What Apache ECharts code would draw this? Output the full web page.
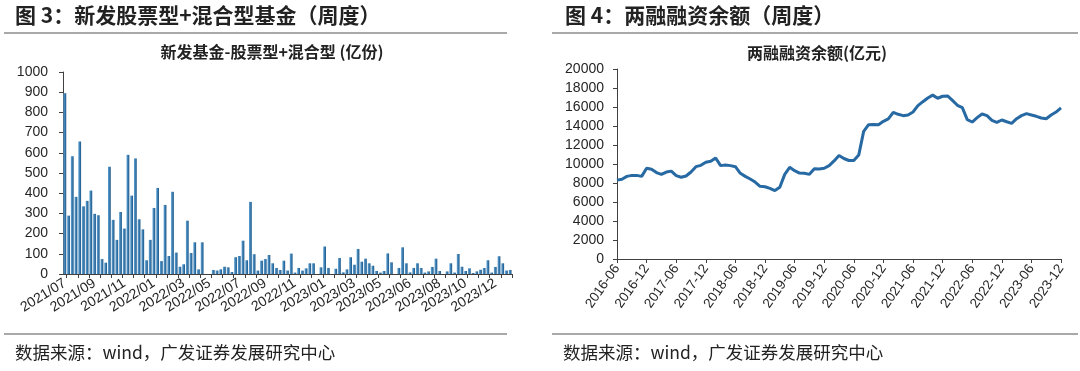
<!DOCTYPE html>
<html>
<head>
<meta charset="utf-8">
<script src="https://cdn.jsdelivr.net/npm/echarts@6/dist/echarts.min.js"></script>
<style>
  html, body { margin: 0; padding: 0; background: #fff; }
  #chart { width: 1080px; height: 371px; }
</style>
</head>
<body>
<div id="chart"></div>
<script>
// weekly new equity + hybrid fund issuance (亿份), 2021/07 - 2023/12
const fundValues = [
  895, 289, 583, 382, 656, 335, 362, 413, 298, 291, 74, 56, 531, 268, 169, 307,
  225, 590, 388, 572, 271, 221, 68, 169, 327, 426, 64, 342, 89, 407, 106, 36,
  48, 264, 104, 157, 23, 157, 0, 0,
  20, 17, 23, 36, 33, 10, 83, 89, 165, 68, 357, 98, 17, 66, 74, 94, 53, 30,
  20, 66, 17, 101, 7, 30, 17, 28, 53, 53, 0, 33, 136, 30, 0, 26, 79, 8, 23, 83, 46,
  124, 61, 76, 53, 41, 15, 7, 15, 102, 58, 0, 30, 132, 53, 8, 30, 53, 30, 7, 13,
  35, 76, 15, 0, 13, 53, 7, 99, 36, 15, 28, 5, 13, 21, 30, 68, 7, 35, 88, 53, 17, 20
];
const fundLabelText = [
  "2021/07", "2021/09", "2021/11", "2022/01", "2022/03", "2022/05", "2022/07", "2022/09",
  "2022/11", "2023/01", "2023/03", "2023/05", "2023/06", "2023/08", "2023/10", "2023/12"
];
const fundLabelIdx = [0, 8, 16, 24, 32, 39, 47, 54, 62, 70, 78, 85, 93, 101, 108, 116];

// monthly margin financing balance (亿元), 2016-06 - 2023-12
const marginStart = [2016, 6];
const marginValues = [
  8300, 8400, 8700, 8800, 8800, 8700, 9550, 9450, 9100, 8900, 9150, 9250,
  8770, 8600, 8740, 9160, 9720, 9860, 10180, 10280, 10630, 9830, 9900, 9830,
  9720, 9020, 8700, 8420, 8100, 7650, 7610, 7440, 7200, 7550, 8910, 9650,
  9300, 9050, 9020, 8910, 9510, 9470, 9550, 9830, 10320, 10900, 10580, 10370,
  10370, 10940, 13430, 14140, 14170, 14140, 14490, 14740, 15440, 15230, 15090, 15160,
  15470, 16140, 16560, 16950, 17250, 16920, 17130, 17160, 16700, 16180, 15930, 14670,
  14420, 14880, 15260, 15090, 14600, 14380, 14630, 14450, 14280, 14770, 15090, 15300,
  15160, 15020, 14840, 14770, 15160, 15470, 15900
];

const fundCats = fundValues.map((v, i) => "w" + i);
const marginCats = marginValues.map((v, i) => {
  const m = marginStart[1] - 1 + i;
  const y = marginStart[0] + Math.floor(m / 12);
  return y + "-" + String((m % 12) + 1).padStart(2, "0");
});

const FONT = "'Liberation Sans', Arial, sans-serif";
const CJK = "'Noto Sans CJK SC', sans-serif";
const AXIS = "#404040";
const TEXT = "#262626";
const SEP = "#8c8c8c";

const chart = echarts.init(document.getElementById("chart"));

const axisBase = {
  axisLine: { show: true, lineStyle: { color: AXIS, width: 1 } },
  axisTick: { show: true, inside: false, length: 4, lineStyle: { color: AXIS } },
  splitLine: { show: false },
};
const plainNum = (v) => String(v);

const option = {
  animation: false,
  backgroundColor: "#fff",
  grid: [
    { left: 63, top: 72, width: 449, height: 202 },
    { left: 617, top: 69, width: 444, height: 190 },
  ],
  xAxis: [
    {
      ...axisBase,
      gridIndex: 0,
      type: "category",
      data: fundCats,
      boundaryGap: true,
      axisTick: {
        show: true, length: 4, lineStyle: { color: AXIS },
        interval: (i) => i % 3 === 1,
      },
      axisLabel: {
        interval: (i) => fundLabelIdx.includes(i),
        formatter: (v, i) => fundLabelText[fundLabelIdx.indexOf(i)] || "",
        rotate: 32,
        color: TEXT,
        fontFamily: FONT,
        fontSize: 14,
        margin: 8,
      },
    },
    {
      ...axisBase,
      gridIndex: 1,
      type: "category",
      data: marginCats,
      boundaryGap: false,
      axisTick: { show: true, length: 4, interval: 5, lineStyle: { color: AXIS } },
      axisLabel: {
        interval: 5,
        rotate: 55,
        color: TEXT,
        fontFamily: FONT,
        fontSize: 13.5,
        margin: 7,
      },
    },
  ],
  yAxis: [
    {
      ...axisBase,
      gridIndex: 0,
      type: "value",
      min: 0,
      max: 1000,
      interval: 100,
      axisLabel: { color: TEXT, fontFamily: FONT, fontSize: 14, margin: 15, formatter: plainNum },
    },
    {
      ...axisBase,
      gridIndex: 1,
      type: "value",
      min: 0,
      max: 20000,
      interval: 2000,
      axisLabel: { color: TEXT, fontFamily: FONT, fontSize: 14, margin: 13, formatter: plainNum },
    },
  ],
  series: [
    {
      type: "bar",
      xAxisIndex: 0,
      yAxisIndex: 0,
      data: fundValues,
      barCategoryGap: "25%",
      itemStyle: {
        color: new echarts.graphic.LinearGradient(0, 0, 1, 0, [
          { offset: 0, color: "#5fa3d6" },
          { offset: 1, color: "#1b5788" },
        ]),
      },
    },
    {
      type: "line",
      xAxisIndex: 1,
      yAxisIndex: 1,
      data: marginValues,
      symbol: "none",
      smooth: false,
      lineStyle: { color: "#2769a3", width: 3 },
    },
  ],
  graphic: [
    { type: "text", left: 15, top: 5,
      style: { text: "图 3：新发股票型+混合型基金（周度）", font: "bold 21px " + CJK, fill: "#222" } },
    { type: "line", shape: { x1: 4, y1: 33, x2: 507, y2: 33 }, style: { stroke: SEP, lineWidth: 1.5 } },
    { type: "text", x: 272, y: 52,
      style: { text: "新发基金-股票型+混合型 (亿份)", font: "bold 16px " + CJK, fill: "#222",
               textAlign: "center", textVerticalAlign: "middle" } },
    { type: "line", shape: { x1: 4, y1: 334, x2: 507, y2: 334 }, style: { stroke: SEP, lineWidth: 1.5 } },
    { type: "text", x: 15, y: 352,
      style: { text: "数据来源：wind，广发证券发展研究中心", font: "17.5px " + CJK, fill: "#222",
               textVerticalAlign: "middle" } },

    { type: "text", left: 565, top: 5,
      style: { text: "图 4：两融融资余额（周度）", font: "bold 21px " + CJK, fill: "#222" } },
    { type: "line", shape: { x1: 552, y1: 33, x2: 1078, y2: 33 }, style: { stroke: SEP, lineWidth: 1.5 } },
    { type: "text", x: 817, y: 53,
      style: { text: "两融融资余额(亿元)", font: "bold 16px " + CJK, fill: "#222",
               textAlign: "center", textVerticalAlign: "middle" } },
    { type: "line", shape: { x1: 552, y1: 334, x2: 1078, y2: 334 }, style: { stroke: SEP, lineWidth: 1.5 } },
    { type: "text", x: 563, y: 352,
      style: { text: "数据来源：wind，广发证券发展研究中心", font: "17.5px " + CJK, fill: "#222",
               textVerticalAlign: "middle" } },
  ],
};

chart.setOption(option);
</script>
</body>
</html>
